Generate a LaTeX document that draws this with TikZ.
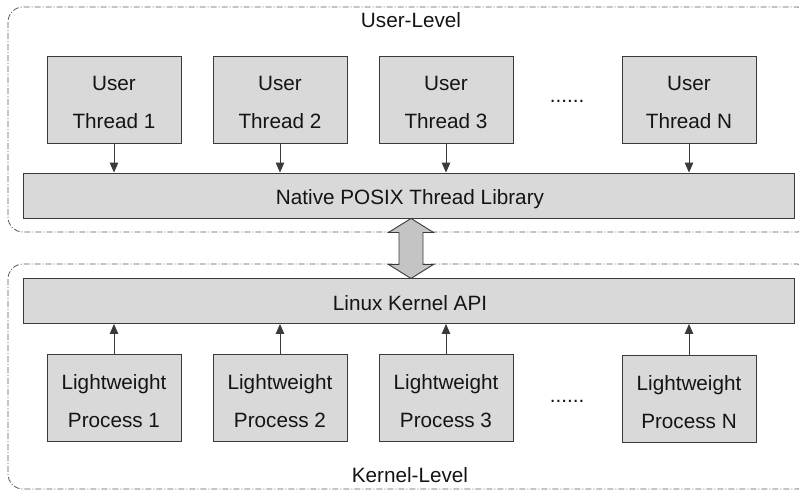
\documentclass[tikz,border=0pt]{standalone}
\usepackage{fontspec}
\setmainfont{Liberation Sans}
\usetikzlibrary{arrows.meta}
\definecolor{boxfill}{HTML}{D9D9D9}
\definecolor{boxline}{HTML}{3A3A3A}
\definecolor{zoneline}{HTML}{5A5A5A}
\definecolor{dblfill}{HTML}{C4C4C4}
% taller first line pushes the two-line labels a little lower in their boxes
\newcommand{\firstline}{\rule{0pt}{21pt}}
\begin{document}
\begin{tikzpicture}[x=1pt,y=-1pt,
  every node/.style={font=\fontsize{20.7}{38}\selectfont, text=black!92},
  zone/.style={draw=zoneline, line width=0.8pt, rounded corners=15pt,
    dash pattern=on 6pt off 2pt on 1pt off 2pt},
  unit/.style={draw=boxline, fill=boxfill, line width=0.9pt, minimum width=134pt,
    minimum height=87pt, inner sep=0pt, align=center},
  bar/.style={draw=boxline, fill=boxfill, line width=0.9pt, minimum width=771pt,
    minimum height=45pt, inner sep=0pt},
  flow/.style={draw=boxline, line width=0.9pt,
    -{Triangle[width=8.5pt,length=10pt]}, shorten >=0pt},
  dbl/.style={draw=boxline, fill=dblfill, line width=0.9pt, line join=miter}
]
\useasboundingbox (0,0) rectangle (799,491);

% user-level and kernel-level regions
\draw[zone] (8,7) rectangle (812,232);
\draw[zone] (8,264) rectangle (812,489);
\node[anchor=base] (ulabel) at (411,27) {User-Level};
\node[anchor=base] (klabel) at (410,482) {Kernel-Level};

% library and kernel API bars
\node[bar] (lib) at (408.5,195.5) {};
\node[anchor=base] (libtext) at (410,204) {Native POSIX Thread Library};
\node[bar] (api) at (408.5,301) {};
\node[anchor=base] (apitext) at (410,310) {Linux Kernel API};

% user threads
\node[unit] (u1) at (114,99.5) {\firstline User\\Thread 1};
\node[unit] (u2) at (280,99.5) {\firstline User\\Thread 2};
\node[unit] (u3) at (446,99.5) {\firstline User\\Thread 3};
\node[unit] (un) at (689,99.5) {\firstline User\\Thread N};
\node[anchor=base] (udots) at (567,102) {......};

% lightweight processes
\node[unit] (p1) at (114,398) {\firstline Lightweight\\Process 1};
\node[unit] (p2) at (280,398) {\firstline Lightweight\\Process 2};
\node[unit] (p3) at (446,398) {\firstline Lightweight\\Process 3};
\node[unit] (pn) at (689,399) {\firstline Lightweight\\Process N};
\node[anchor=base] (pdots) at (567,402) {......};

% threads feed the library, processes feed the kernel API
\foreach \u in {u1,u2,u3,un}
  \draw[flow] (\u.south) -- (\u.south |- lib.north);
\foreach \p in {p1,p2,p3,pn}
  \draw[flow] (\p.north) -- (\p.north |- api.south);

% two-way link between the library and the kernel API
\coordinate (dtop) at (411,0 |- lib.south);
\draw[dbl] (dtop) -- ++(22.5,14) -- ++(-10.5,0) -- ++(0,32) -- ++(10.5,0)
  -- ++(-22.5,14) -- ++(-22.5,-14) -- ++(10.5,0) -- ++(0,-32) -- ++(-10.5,0) -- cycle;
\end{tikzpicture}
\end{document}
